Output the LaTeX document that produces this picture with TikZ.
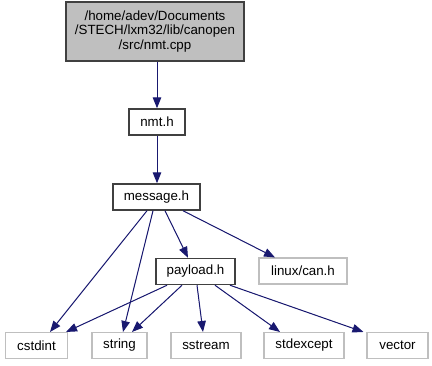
\documentclass[tikz,border=0pt]{standalone}
\usepackage{fontspec}
\setmainfont{Liberation Sans}
\usetikzlibrary{arrows.meta, calc}
\definecolor{cEdge}{RGB}{ 25, 25,112}
\definecolor{cBox} {RGB}{ 64, 64, 64}
\definecolor{cExt} {RGB}{191,191,191}
\tikzset{
  hdr/.style={
    rectangle, draw=cBox, fill=white, text=black,
    line width=1.1pt, inner sep=0pt,
    minimum height=19.5pt, align=center,
    font=\fontsize{10}{11}\selectfont
  },
  cur/.style={hdr, fill=cExt, minimum height=44.25pt},
  sys/.style={hdr, draw=cExt, line width=0.8pt},
  inc/.style={-{Triangle[length=8.25pt, width=6.4pt]},
              draw=cEdge, fill=cEdge, line width=0.75pt},
}

\begin{document}
\begin{tikzpicture}[x=0.75pt, y=-0.75pt]
\useasboundingbox (0,0) rectangle (432,365);

%% -- files of the project ----------------------------------------------------
\node[cur, minimum width=133.5pt] (src) at (155.0, 31.5)
  {/home/adev/Documents\\/STECH/lxm32/lib/canopen\\/src/nmt.cpp};
\node[hdr, minimum width=42pt]    (nmt)     at (157.0,122.0) {nmt.h};
\node[hdr, minimum width=65.25pt] (message) at (156.5,197.0) {message.h};
\node[hdr, minimum width=59.25pt] (payload) at (195.5,271.5) {payload.h};

%% -- system headers ------------------------------------------------------------
\node[sys, minimum width=66pt]    (can)       at (303.0,271.0) {linux/can.h};
\node[sys, minimum width=46.5pt]  (cstdint)   at ( 36.5,345.5) {cstdint};
\node[sys, minimum width=41.25pt] (string)    at (119.5,345.5) {string};
\node[sys, minimum width=52.5pt]  (sstream)   at (206.0,345.5) {sstream};
\node[sys, minimum width=60pt]    (stdexcept) at (304.0,345.5) {stdexcept};
\node[sys, minimum width=45.75pt] (vector)    at (397.5,345.5) {vector};

%% -- include edges -------------------------------------------------------------
\draw[inc] ($(src.south)+(2,0)$) -- (nmt.north);
\draw[inc] (nmt.south) -- ($(message.north)+(0.5,0)$);

\draw[inc] ($(message.south)+(-9.5,0)$) -- ($(cstdint.north)+(13.5,0)$);
\draw[inc] ($(message.south)+(-3.5,0)$) -- ($(string.north)+(3.5,0)$);
\draw[inc] ($(message.south)+( 8.5,0)$) -- ($(payload.north)+(-7.5,0)$);
\draw[inc] ($(message.south)+(26.5,0)$) -- ($(can.north)+(-28,0)$);

\draw[inc] ($(payload.south)+(-28.5,0)$) -- ($(cstdint.north east)+(-2,0)$);
\draw[inc] ($(payload.south)+(-13.5,0)$) -- ($(string.north)+(12.5,0)$);
\draw[inc] ($(payload.south)+(  1.5,0)$) -- ($(sstream.north)+(-3,0)$);
\draw[inc] ($(payload.south)+( 19.5,0)$) -- ($(stdexcept.north)+(-24,0)$);
\draw[inc] ($(payload.south)+( 34.5,0)$) -- ($(vector.north west)+(-3,0)$);

\end{tikzpicture}
\end{document}
